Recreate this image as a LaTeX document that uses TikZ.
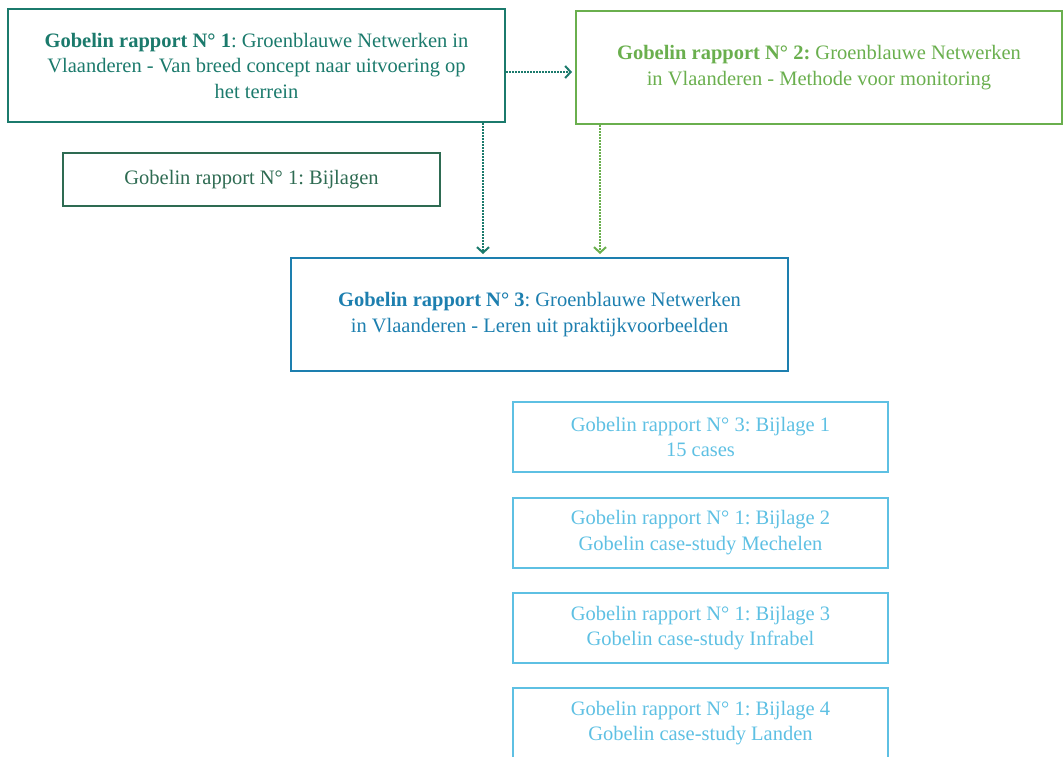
\documentclass[tikz,border=0pt]{standalone}
\usepackage{fontspec}
\setmainfont{Liberation Serif}
\usetikzlibrary{arrows.meta,calc}
\frenchspacing
\definecolor{cteal}{HTML}{1B7A6C}
\definecolor{cgreen}{HTML}{6AAF4E}
\definecolor{cdark}{HTML}{2E6B52}
\definecolor{cblue}{HTML}{1D7FAF}
\definecolor{clight}{HTML}{5EC0E3}
\tikzset{
  box/.style={draw, rectangle, line width=2pt, align=center, inner sep=0pt,
    font=\fontsize{20.5}{25.5}\selectfont\frenchspacing},
  conn/.style={line width=1.6pt, dash pattern=on 1.6pt off 1.4pt, line cap=butt,
    -{Straight Barb[length=5.5pt,width=12pt,line width=2pt]}, shorten >=3pt},
}
\begin{document}
\begin{tikzpicture}[x=1pt,y=-1pt]
\useasboundingbox (0,0) rectangle (1064,756);
\clip (0,0) rectangle (1064,756);
\node[box, draw=cteal, text=cteal, minimum width=497pt, minimum height=113pt] (b1) at (256.5,65.5)
  {\textbf{Gobelin rapport N° 1}: Groenblauwe Netwerken in\\Vlaanderen - Van breed concept naar uitvoering op\\het terrein};
\node[box, draw=cgreen, text=cgreen, minimum width=486pt, minimum height=113pt] (b2) at (819,67.5)
  {\textbf{Gobelin rapport N° 2:} Groenblauwe Netwerken\\in Vlaanderen - Methode voor monitoring};
\node[box, draw=cdark, text=cdark, minimum width=377pt, minimum height=53pt] (bij) at (251.5,179.5)
  {Gobelin rapport N° 1: Bijlagen};
\node[box, draw=cblue, text=cblue, minimum width=497pt, minimum height=113pt] (b3) at (539.5,314.5)
  {\textbf{Gobelin rapport N° 3}: Groenblauwe Netwerken\\in Vlaanderen - Leren uit praktijkvoorbeelden};
\node[box, draw=clight, text=clight, minimum width=375pt, minimum height=70pt] (a1) at (700.5,437)
  {Gobelin rapport N° 3: Bijlage 1\\15 cases};
\node[box, draw=clight, text=clight, minimum width=375pt, minimum height=70pt] (a2) at (700.5,532.5)
  {Gobelin rapport N° 1: Bijlage 2\\Gobelin case-study Mechelen};
\node[box, draw=clight, text=clight, minimum width=375pt, minimum height=70pt] (a3) at (700.5,628)
  {Gobelin rapport N° 1: Bijlage 3\\Gobelin case-study Infrabel};
\node[box, draw=clight, text=clight, minimum width=375pt, minimum height=70pt] (a4) at (700.5,723)
  {Gobelin rapport N° 1: Bijlage 4\\Gobelin case-study Landen};
\draw[conn, cteal] ([yshift=-6.5pt]b1.east) -- ([yshift=-6.5pt]b1.east -| b2.west);
\draw[conn, cteal] ([xshift=-23pt]b1.south east) -- ([xshift=-23pt]b1.south east |- b3.north);
\draw[conn, cgreen] ([xshift=25pt]b2.south west) -- ([xshift=25pt]b2.south west |- b3.north);
\end{tikzpicture}
\end{document}
